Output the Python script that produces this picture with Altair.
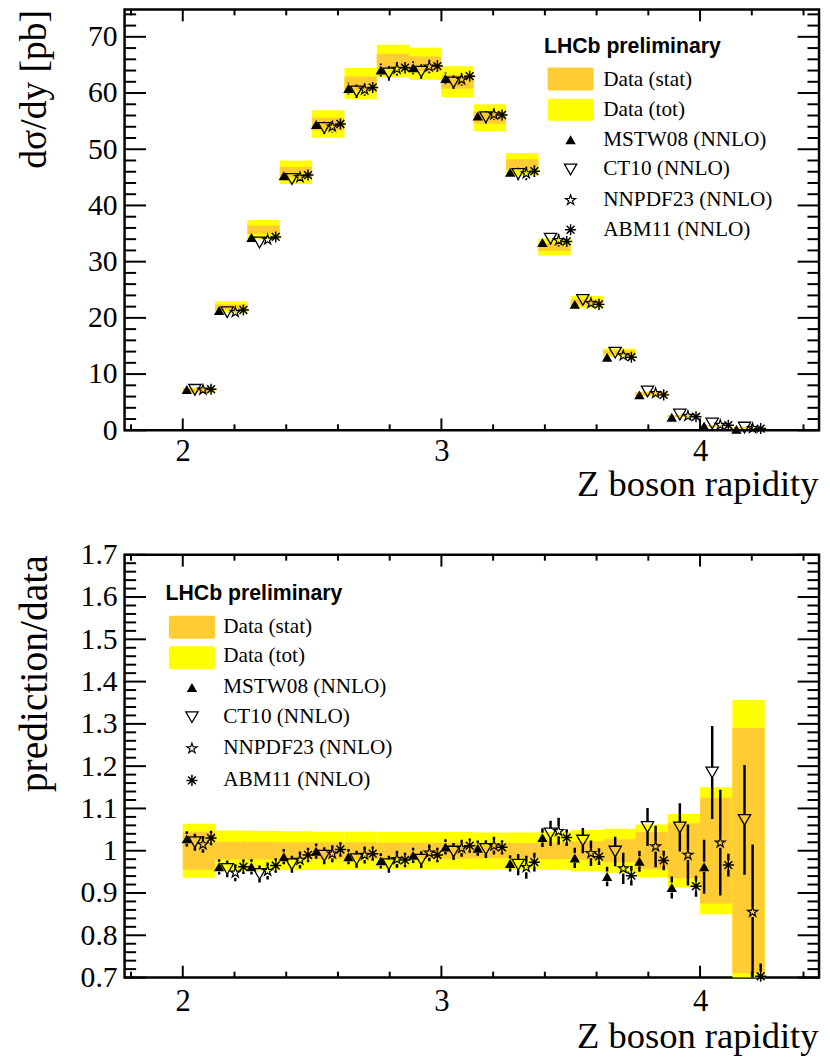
import altair as alt
import pandas as pd

# ---------------- data ----------------
bin_lo = [2.000, 2.125, 2.250, 2.375, 2.500, 2.625, 2.750, 2.875, 3.000,
          3.125, 3.250, 3.375, 3.500, 3.625, 3.750, 3.875, 4.000, 4.125]
bin_width = 0.125

model_names = ["MSTW08 (NNLO)", "CT10 (NNLO)", "NNPDF23 (NNLO)", "ABM11 (NNLO)"]

# upper panel: measured d(sigma)/dy [pb] with stat and total uncertainty
data_xsec = [7.1, 21.9, 35.7, 45.9, 54.5, 61.7, 65.7, 65.2, 62.0,
             55.6, 47.3, 32.6, 22.8, 13.85, 6.46, 2.52, 0.78, 0.42]
data_tot = [0.45, 1.05, 1.7, 2.1, 2.45, 2.75, 2.9, 2.85, 2.75,
            2.4, 2.05, 1.5, 1.1, 0.72, 0.4, 0.22, 0.12, 0.15]
data_stat = [0.32, 0.47, 0.75, 0.95, 1.1, 1.25, 1.3, 1.3, 1.25,
             1.05, 0.9, 0.65, 0.5, 0.37, 0.29, 0.16, 0.1, 0.12]

# upper panel: predictions [pb]
xsec_mstw08 = [7.25, 21.3, 34.3, 45.3, 54.4, 60.8, 64.1, 64.5, 62.6,
               55.9, 45.9, 33.4, 22.4, 13.0, 6.3, 2.3, 0.75, 0.17]
xsec_ct10 = [7.2, 21.0, 33.4, 44.7, 53.8, 60.3, 63.5, 63.8, 61.9,
             55.7, 45.6, 34.1, 23.2, 13.8, 6.9, 2.8, 1.2, 0.48]
xsec_nnpdf23 = [7.2, 21.0, 33.9, 45.0, 54.0, 60.6, 64.3, 64.7, 62.4,
                56.2, 45.7, 33.8, 22.6, 13.3, 6.6, 2.55, 0.95, 0.38]
xsec_abm11 = [7.3, 21.4, 34.4, 45.4, 54.5, 61.0, 64.5, 64.8, 63.0,
              56.1, 46.1, 33.6, 22.4, 13.0, 6.3, 2.4, 0.9, 0.3]

xsec_err_mstw08 = [0.15, 0.4, 0.6, 0.8, 0.95, 1.05, 1.15, 1.15, 1.05,
                   0.95, 0.85, 0.7, 0.5, 0.3, 0.16, 0.06, 0.05, 0.02]
xsec_err_ct10 = [0.15, 0.45, 0.7, 0.9, 1.1, 1.2, 1.3, 1.3, 1.2,
                 1.1, 1.1, 1.0, 0.7, 0.5, 0.3, 0.15, 0.13, 0.06]
xsec_err_nnpdf23 = [0.13, 0.4, 0.6, 0.85, 1.0, 1.1, 1.2, 1.2, 1.1,
                    1.0, 1.2, 1.1, 0.7, 0.5, 0.3, 0.18, 0.12, 0.07]
xsec_err_abm11 = [0.1, 0.3, 0.5, 0.7, 0.85, 0.95, 1.0, 1.0, 0.95,
                  0.85, 1.0, 0.7, 0.45, 0.3, 0.15, 0.06, 0.03, 0.015]

# lower panel: relative data uncertainties
ratio_tot = [0.064, 0.048, 0.047, 0.046, 0.045, 0.045, 0.044, 0.044, 0.044,
             0.043, 0.043, 0.045, 0.049, 0.052, 0.062, 0.087, 0.15, 0.357]
ratio_stat = [0.045, 0.021, 0.021, 0.020, 0.020, 0.020, 0.019, 0.019, 0.019,
              0.018, 0.018, 0.020, 0.022, 0.027, 0.044, 0.065, 0.125, 0.29]

# lower panel: prediction / data
ratio_mstw08 = [1.028, 0.962, 0.962, 0.986, 0.999, 0.986, 0.976, 0.989, 1.009,
                1.006, 0.970, 1.031, 0.983, 0.939, 0.975, 0.913, 0.962, 0.40]
ratio_ct10 = [1.020, 0.957, 0.945, 0.968, 0.988, 0.980, 0.968, 0.979, 0.998,
              1.004, 0.967, 1.041, 1.024, 0.998, 1.056, 1.055, 1.185, 1.073]
ratio_nnpdf23 = [1.015, 0.948, 0.952, 0.978, 0.993, 0.990, 0.980, 0.995, 1.006,
                 1.012, 0.961, 1.046, 0.994, 0.958, 1.010, 0.990, 1.019, 0.855]
ratio_abm11 = [1.030, 0.962, 0.965, 0.990, 1.003, 0.993, 0.978, 0.990, 1.012,
               1.008, 0.973, 1.031, 0.986, 0.941, 0.977, 0.916, 0.966, 0.703]

ratio_err_mstw08 = [0.018, 0.018, 0.018, 0.018, 0.018, 0.018, 0.018, 0.018, 0.018,
                    0.018, 0.019, 0.022, 0.024, 0.023, 0.025, 0.026, 0.064, 0.10]
ratio_err_ct10 = [0.02, 0.02, 0.02, 0.02, 0.02, 0.02, 0.02, 0.02, 0.02,
                  0.021, 0.025, 0.03, 0.03, 0.035, 0.045, 0.057, 0.11, 0.13]
ratio_err_nnpdf23 = [0.02, 0.02, 0.02, 0.02, 0.02, 0.02, 0.02, 0.02, 0.02,
                     0.021, 0.027, 0.032, 0.03, 0.037, 0.049, 0.072, 0.125, 0.16]
ratio_err_abm11 = [0.017, 0.017, 0.017, 0.017, 0.017, 0.017, 0.017, 0.017, 0.017,
                   0.017, 0.022, 0.02, 0.02, 0.023, 0.023, 0.025, 0.027, 0.03]

# axis tick values
x_major = [2, 3, 4]
x_minor = [1.8, 2.2, 2.4, 2.6, 2.8, 3.2, 3.4, 3.6, 3.8, 4.2, 4.4]
top_y_major = [0, 10, 20, 30, 40, 50, 60, 70]
top_y_minor = [v for v in range(0, 75, 2) if v % 10 != 0]
bot_y_major = [0.7, 0.8, 0.9, 1.0, 1.1, 1.2, 1.3, 1.4, 1.5, 1.6, 1.7]
bot_y_minor = [round(0.7 + 0.02 * i, 2) for i in range(51) if i % 5 != 0]

# ---------------- styling / layout ----------------
X_DOMAIN = [1.775, 4.46]
W = 703
TOP_H = 426
TOP_DOMAIN = [0, 74.87]
BOT_H = 428
BOT_DOMAIN = [0.7, 1.7]
SERIF = "Liberation Serif"
SANS = "Liberation Sans"
ORANGE = "#FFCC33"
YELLOW = "#FFFF00"
GAP = 5.0

STAR = ("M0,-1L0.225,-0.309L0.951,-0.309L0.363,0.118L0.588,0.809L0,0.382"
        "L-0.588,0.809L-0.363,0.118L-0.951,-0.309L-0.225,-0.309Z")
ASTERISK = ("M0,-1L0,1M-1,0L1,0M-0.707,-0.707L0.707,0.707"
            "M-0.707,0.707L0.707,-0.707")

MARKER_STYLE = {
    "MSTW08 (NNLO)": dict(shape="triangle-up", size=110, filled=True, strokeWidth=0),
    "CT10 (NNLO)": dict(shape="triangle-down", size=155, filled=False, strokeWidth=1.3),
    "NNPDF23 (NNLO)": dict(shape=STAR, size=115, filled=False, strokeWidth=1.2),
    "ABM11 (NNLO)": dict(shape=ASTERISK, size=125, filled=False, strokeWidth=1.5),
}

bin_hi = [b + bin_width for b in bin_lo]


def bands_frame(center, tot, stat):
    return pd.DataFrame({
        "lo": bin_lo, "hi": bin_hi,
        "tot_lo": [c - e for c, e in zip(center, tot)],
        "tot_hi": [c + e for c, e in zip(center, tot)],
        "stat_lo": [c - e for c, e in zip(center, stat)],
        "stat_hi": [c + e for c, e in zip(center, stat)],
    })


def points_frame(values, errors):
    rows = []
    for i, m in enumerate(model_names):
        for k, lo in enumerate(bin_lo):
            v, e = values[i][k], errors[i][k]
            rows.append({"model": m, "x": lo + (2 * i + 1) * bin_width / 8,
                         "val": v, "err": e, "top": v + e, "bot": v - e})
    return pd.DataFrame(rows)


top_bands = bands_frame(data_xsec, data_tot, data_stat)
bot_bands = bands_frame([1.0] * len(bin_lo), ratio_tot, ratio_stat)
top_pts = points_frame([xsec_mstw08, xsec_ct10, xsec_nnpdf23, xsec_abm11],
                       [xsec_err_mstw08, xsec_err_ct10, xsec_err_nnpdf23, xsec_err_abm11])
bot_pts = points_frame([ratio_mstw08, ratio_ct10, ratio_nnpdf23, ratio_abm11],
                       [ratio_err_mstw08, ratio_err_ct10, ratio_err_nnpdf23, ratio_err_abm11])


def legend_layers(cfg):
    layers = [
        alt.Chart(pd.DataFrame({"t": ["LHCb preliminary"]})).mark_text(
            font=SANS, fontWeight="bold", fontSize=21.5, align="left",
            baseline="alphabetic", color="black").encode(
            text="t:N", x=alt.value(cfg["x_title"]), y=alt.value(cfg["y_title"]))
    ]
    for color, (y0, y1) in zip([ORANGE, YELLOW], cfg["sw_rows"]):
        layers.append(alt.Chart(pd.DataFrame({"c": [color]})).mark_rect(
            color=color, cornerRadius=2).encode(
            x=alt.value(cfg["sw_x"][0]), x2=alt.value(cfg["sw_x"][1]),
            y=alt.value(y0), y2=alt.value(y1)))
    labels = ["Data (stat)", "Data (tot)"] + model_names
    for lab, yy in zip(labels, cfg["rows"]):
        layers.append(alt.Chart(pd.DataFrame({"t": [lab]})).mark_text(
            font=SERIF, fontSize=21.5, align="left", baseline="middle",
            color="black").encode(text="t:N", x=alt.value(cfg["x_text"]), y=alt.value(yy)))
    for m, yy in zip(model_names, cfg["rows"][2:]):
        layers.append(alt.Chart(pd.DataFrame({"m": [m]})).mark_point(
            opacity=1, color="black", **MARKER_STYLE[m]).encode(
            x=alt.value(cfg["x_mark"]), y=alt.value(yy)))
    return layers


def panel(bands, pts, y_domain, height, y_title, y_title_size, y_major, y_minor,
          y_fmt, x_lab_pad, x_title_y, bar_w, legend_cfg):
    xs = alt.Scale(domain=X_DOMAIN, nice=False, zero=False)
    ys = alt.Scale(domain=y_domain, nice=False, zero=False)
    pxu = height / (y_domain[1] - y_domain[0])

    x_axis = alt.Axis(values=x_major, format="d", ticks=False, tickSize=0,
                      domain=False, grid=False, labelFont=SERIF, labelFontSize=31,
                      labelColor="black", labelBaseline="alphabetic",
                      labelPadding=x_lab_pad, labelFlush=False,
                      title="Z boson rapidity", titleFont=SERIF, titleFontSize=37,
                      titleFontWeight="normal", titleColor="black",
                      titleAlign="right", titleBaseline="alphabetic",
                      titleX=W - 1, titleY=x_title_y)
    y_axis = alt.Axis(values=y_major, format=y_fmt, ticks=False, tickSize=0,
                      domain=False, grid=False, labelFont=SERIF, labelFontSize=30,
                      labelColor="black", labelPadding=7.5, labelFlush=False,
                      title=y_title, titleFont=SERIF, titleFontSize=y_title_size,
                      titleFontWeight="normal", titleColor="black",
                      titleAngle=270, titleAlign="right", titleBaseline="middle",
                      titleX=-91.5, titleY=0)

    def X(field):
        return alt.X(field, scale=xs, axis=x_axis)

    def Y(field):
        return alt.Y(field, scale=ys, axis=y_axis)

    layers = [
        alt.Chart(bands).mark_rect(color=YELLOW, clip=True).encode(
            x=X("lo:Q"), x2="hi:Q", y=Y("tot_lo:Q"), y2="tot_hi:Q"),
        alt.Chart(bands).mark_rect(color=ORANGE, clip=True).encode(
            x=X("lo:Q"), x2="hi:Q", y=Y("stat_lo:Q"), y2="stat_hi:Q"),
    ]
    shown = pts[pts["err"] * pxu > GAP + 0.5]
    layers.append(alt.Chart(shown).mark_rule(
        color="black", strokeWidth=bar_w, yOffset=-GAP, clip=True).encode(
        x=X("x:Q"), y=Y("val:Q"), y2="top:Q"))
    layers.append(alt.Chart(shown).mark_rule(
        color="black", strokeWidth=bar_w, yOffset=GAP, clip=True).encode(
        x=X("x:Q"), y=Y("val:Q"), y2="bot:Q"))
    visible = pts[pts["val"] >= y_domain[0] - 0.005]
    for m in model_names:
        layers.append(alt.Chart(visible[visible["model"] == m]).mark_point(
            opacity=1, color="black", **MARKER_STYLE[m]).encode(
            x=X("x:Q"), y=Y("val:Q")))

    # inward ticks on all four sides
    for vals, length in [(y_major, 21.7), (y_minor, 11.7)]:
        df = pd.DataFrame({"v": vals})
        for x0, x1 in [(0, length), (W - length, W)]:
            layers.append(alt.Chart(df).mark_rule(color="black", strokeWidth=2).encode(
                y=Y("v:Q"), x=alt.value(x0), x2=alt.value(x1)))
    for vals, length in [(x_major, 12), (x_minor, 6)]:
        df = pd.DataFrame({"v": vals})
        for y0, y1 in [(height, height - length), (0, length)]:
            layers.append(alt.Chart(df).mark_rule(color="black", strokeWidth=2).encode(
                x=X("v:Q"), y=alt.value(y0), y2=alt.value(y1)))

    layers += legend_layers(legend_cfg)
    return alt.layer(*layers).properties(width=W, height=height)


top_legend = dict(x_title=424.5, y_title=44.5, sw_x=(428.2, 474.8),
                  sw_rows=[(58.7, 82.0), (90.3, 112.7)], x_mark=451.5, x_text=484.5,
                  rows=[71, 102, 132, 162, 193, 223])
bot_legend = dict(x_title=41.5, y_title=46.2, sw_x=(44.8, 91.5),
                  sw_rows=[(61.7, 85.0), (92.7, 116.0)], x_mark=68.2, x_text=99.8,
                  rows=[72.7, 102.7, 134.4, 164.4, 196.0, 228.4])

top = panel(top_bands, top_pts, TOP_DOMAIN, TOP_H, "dσ/dy [pb]", 38,
            top_y_major, top_y_minor, "d", 30.7, 66.2, 2, top_legend)
bottom = panel(bot_bands, bot_pts, BOT_DOMAIN, BOT_H, "prediction/data", 40,
               bot_y_major, bot_y_minor, ".2~g", 33, 70.5, 2.5, bot_legend)

chart = alt.vconcat(top, bottom, spacing=34).properties(
    padding={"left": 5, "top": -8, "right": 0, "bottom": 0},
    background="white",
).configure_view(stroke="black", strokeWidth=2.5)

chart.save("out.html", embed_options={"renderer": "svg", "actions": False})
